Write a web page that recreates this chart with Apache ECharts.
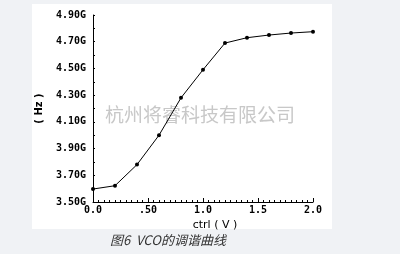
<!DOCTYPE html>
<html><head><meta charset="utf-8">
<script src="https://cdn.jsdelivr.net/npm/echarts@6/dist/echarts.min.js"></script>
<style>html,body{margin:0;padding:0;background:#f0f2f5;}#c{width:400px;height:254px;}</style>
</head><body><div id="c"></div>
<script>
var ctrlV = [0, 0.2, 0.4, 0.6, 0.8, 1.0, 1.2, 1.4, 1.6, 1.8, 2.0];
var freqG = [3.597, 3.622, 3.78, 4.00, 4.28, 4.49, 4.69, 4.73, 4.75, 4.765, 4.775];
var xTickLabels = ['0.0', '.50', '1.0', '1.5', '2.0'];
var yTickLabels = ['3.50G', '3.70G', '3.90G', '4.10G', '4.30G', '4.50G', '4.70G', '4.90G'];
var watermark = '杭州将睿科技有限公司';
var caption = '图6  VCO的调谐曲线';

var chart = echarts.init(document.getElementById('c'), null, {renderer: 'canvas'});
var mono = 'DejaVu Sans Mono';
chart.setOption({
  animation: false,
  backgroundColor: '#f0f2f5',
  graphic: [
    {type: 'rect', z: -10, shape: {x: 32, y: 4, width: 300, height: 225}, style: {fill: '#ffffff'}},
    {type: 'text', z: 0, left: 'center', top: 105, style: {text: watermark, fill: '#c8c8c8', font: '19px "Noto Sans CJK SC"'}},
    {type: 'text', left: 110, top: 234, style: {text: caption, fill: '#333', font: 'italic 13px "Noto Sans CJK SC"'}}
  ],
  grid: {left: 93, right: 87, top: 15, bottom: 52, containLabel: false},
  xAxis: {
    type: 'value', min: 0, max: 2, interval: 0.5,
    name: 'ctrl ( V )', nameLocation: 'middle', nameGap: 15,
    nameTextStyle: {fontFamily: 'DejaVu Sans', fontSize: 11, color: '#000', padding: [0, 0, 0, 24]},
    axisLine: {show: true, lineStyle: {color: '#000', width: 1}},
    axisTick: {show: true, inside: true, length: 4, lineStyle: {color: '#000'}},
    minorTick: {show: true, splitNumber: 10, length: 2, lineStyle: {color: '#000'}},
    splitLine: {show: false},
    axisLabel: {margin: 3, fontFamily: mono, fontSize: 10, fontWeight: 'bold', color: '#000',
      formatter: function (v) { return xTickLabels[Math.round(v / 0.5)]; }}
  },
  yAxis: {
    type: 'value', min: 3.5, max: 4.9, interval: 0.1,
    name: '( Hz )', nameLocation: 'middle', nameGap: 49, nameRotate: 90,
    nameTextStyle: {fontFamily: 'DejaVu Sans', fontSize: 10, fontWeight: 'bold', color: '#000'},
    axisLine: {show: true, lineStyle: {color: '#000', width: 1}},
    axisTick: {show: true, inside: true, length: 2, lineStyle: {color: '#000'}},
    minorTick: {show: true, splitNumber: 4, length: 1, lineStyle: {color: '#000'}},
    splitLine: {show: false},
    axisLabel: {margin: 7, fontFamily: mono, fontSize: 10, fontWeight: 'bold', color: '#000',
      formatter: function (v) {
        var k = Math.round((v - 3.5) * 10);
        return k % 2 === 0 ? yTickLabels[k / 2] : '';
      }}
  },
  series: [{
    type: 'line',
    data: ctrlV.map(function (x, i) { return [x, freqG[i]]; }),
    lineStyle: {color: '#000', width: 1},
    itemStyle: {color: '#000'},
    symbol: 'circle', symbolSize: 4, showSymbol: true
  }]
});
</script></body></html>
